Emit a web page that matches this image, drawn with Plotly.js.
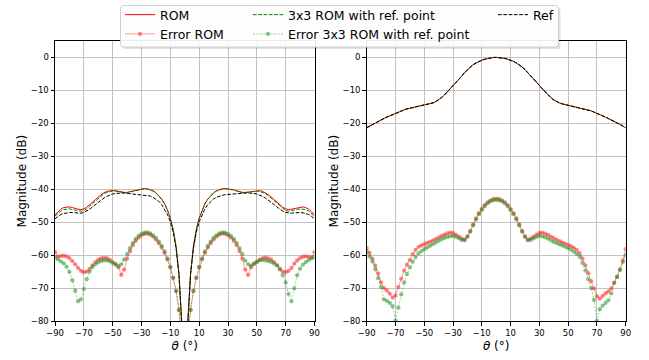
<!DOCTYPE html>
<html>
<head>
<meta charset="utf-8">
<script src="https://cdn.plot.ly/plotly-3.0.1.min.js"></script>
<style>html,body{margin:0;padding:0;background:#fff;}#chart{width:649px;height:360px;}</style>
</head>
<body>
<div id="chart"></div>
<script>
// ---------------- data ----------------
const theta = [-90,-88,-86,-84,-82,-80,-78,-76,-74,-72,-70,-68,-66,-64,-62,-60,-58,-56,-54,-52,-50,-48,-46,-44,-42,-40,-38,-36,-34,-32,-30,-28,-26,-24,-22,-20,-18,-16,-14,-12,-10,-8,-6,-4,-2,0,2,4,6,8,10,12,14,16,18,20,22,24,26,28,30,32,34,36,38,40,42,44,46,48,50,52,54,56,58,60,62,64,66,68,70,72,74,76,78,80,82,84,86,88,90];
const xTicks = [-90,-70,-50,-30,-10,10,30,50,70,90];
const yTicks = [-80,-70,-60,-50,-40,-30,-20,-10,0];
const seriesNames = ["ROM", "3x3 ROM with ref. point", "Ref", "Error ROM", "Error 3x3 ROM with ref. point"];

// Left panel
const romLeft = [-47.7,-46.8,-46.0,-45.5,-45.3,-45.3,-45.5,-45.8,-46.0,-46.1,-45.9,-45.4,-44.7,-43.9,-43.1,-42.3,-41.6,-41.0,-40.6,-40.4,-40.3,-40.4,-40.6,-40.8,-40.9,-40.9,-40.7,-40.4,-40.1,-39.9,-39.8,-39.7,-39.8,-40.0,-40.4,-41.0,-41.8,-42.9,-44.3,-46.2,-48.7,-52.2,-57.3,-65.5,-81.0,-110,
  -81.0,-65.5,-57.3,-52.2,-48.7,-46.2,-44.3,-42.9,-41.8,-41.0,-40.4,-40.0,-39.8,-39.7,-39.8,-39.9,-40.1,-40.4,-40.7,-40.9,-40.9,-40.8,-40.6,-40.4,-40.3,-40.4,-40.6,-41.0,-41.6,-42.3,-43.1,-43.9,-44.7,-45.4,-45.9,-46.1,-46.0,-45.8,-45.5,-45.3,-45.3,-45.5,-46.0,-46.8,-47.7];
const rom3Left = [-48.1,-47.3,-46.6,-46.1,-45.9,-45.9,-46.1,-46.3,-46.5,-46.6,-46.4,-45.9,-45.1,-44.3,-43.5,-42.7,-41.9,-41.3,-40.9,-40.6,-40.5,-40.5,-40.7,-40.9,-41.0,-41.0,-40.8,-40.5,-40.2,-40.0,-39.9,-39.8,-39.9,-40.1,-40.5,-41.1,-41.9,-43.0,-44.4,-46.3,-48.8,-52.3,-57.4,-65.7,-81.5,-110,
  -81.5,-65.7,-57.4,-52.3,-48.8,-46.3,-44.4,-43.0,-41.9,-41.1,-40.5,-40.1,-39.9,-39.8,-39.9,-40.0,-40.2,-40.5,-40.8,-41.0,-41.0,-40.9,-40.7,-40.5,-40.5,-40.6,-40.9,-41.3,-41.9,-42.7,-43.5,-44.3,-45.1,-45.9,-46.4,-46.6,-46.5,-46.3,-46.1,-45.9,-45.9,-46.1,-46.6,-47.3,-48.1];
const refLeft = [-48.9,-48.2,-47.6,-47.3,-47.1,-47.0,-47.0,-47.1,-47.2,-47.2,-47.0,-46.6,-46.0,-45.3,-44.6,-43.9,-43.2,-42.6,-42.1,-41.7,-41.4,-41.2,-41.1,-41.1,-41.1,-41.2,-41.3,-41.3,-41.4,-41.4,-41.5,-41.6,-41.8,-42.0,-42.4,-42.9,-43.6,-44.6,-45.9,-47.6,-49.8,-53.0,-57.9,-66.0,-82.0,-110,
  -82.0,-66.0,-57.9,-53.0,-49.8,-47.6,-45.9,-44.6,-43.6,-42.9,-42.4,-42.0,-41.8,-41.6,-41.5,-41.4,-41.4,-41.3,-41.3,-41.2,-41.1,-41.1,-41.1,-41.2,-41.4,-41.7,-42.1,-42.6,-43.2,-43.9,-44.6,-45.3,-46.0,-46.6,-47.0,-47.2,-47.2,-47.1,-47.0,-47.0,-47.1,-47.3,-47.6,-48.2,-48.9];
const errRomLeft = [-59.0,-60.4,-60.2,-60.1,-60.3,-60.8,-61.7,-62.7,-63.8,-64.7,-65.1,-64.9,-64.1,-63.0,-62.0,-61.3,-60.9,-60.7,-60.8,-61.3,-62.0,-62.6,-63.6,-65.9,-64.3,-61.0,-58.7,-56.9,-55.6,-54.6,-53.9,-53.5,-53.4,-53.7,-54.3,-55.2,-56.3,-57.6,-59.2,-61.2,-63.6,-66.8,-70.8,-76.5,-86,-110,
  -86,-76.5,-70.8,-66.8,-63.6,-61.2,-59.2,-57.6,-56.3,-55.2,-54.3,-53.7,-53.4,-53.5,-53.9,-54.6,-55.6,-56.9,-58.7,-61.0,-64.3,-65.9,-63.6,-62.6,-62.0,-61.3,-60.8,-60.7,-60.9,-61.3,-62.0,-63.0,-64.1,-64.9,-65.1,-64.7,-63.8,-62.5,-61.5,-60.8,-60.4,-60.3,-60.5,-60.6,-59.0];
const errRom3Left = [-60.5,-61.2,-61.8,-62.4,-63.4,-65.0,-67.6,-70.7,-73.9,-73.3,-70.2,-67.2,-64.9,-63.5,-62.7,-62.1,-61.7,-61.5,-61.5,-61.8,-62.3,-62.8,-63.2,-62.7,-61.3,-59.6,-57.8,-56.2,-55.0,-54.1,-53.5,-53.1,-53.0,-53.3,-53.9,-54.7,-55.8,-57.1,-58.8,-60.9,-63.5,-66.8,-70.8,-76.5,-86,-110,
  -86,-76.5,-70.8,-66.8,-63.5,-60.9,-58.8,-57.1,-55.8,-54.7,-53.9,-53.3,-53.0,-53.1,-53.5,-54.1,-55.0,-56.2,-57.8,-59.6,-61.6,-62.7,-63.1,-62.5,-61.9,-61.5,-61.4,-61.5,-61.7,-62.0,-62.5,-63.0,-64.2,-66.0,-68.2,-71.7,-73.9,-70.0,-66.0,-64.0,-62.8,-62.0,-61.4,-60.9,-60.5];

// Right panel (ROM, 3x3 ROM and Ref coincide)
const refRight = [-21.3,-20.8,-20.3,-19.8,-19.3,-18.9,-18.5,-18.1,-17.7,-17.3,-16.9,-16.6,-16.2,-15.9,-15.6,-15.4,-15.2,-15.0,-14.8,-14.7,-14.5,-14.3,-14.1,-13.8,-13.4,-12.9,-12.2,-11.4,-10.5,-9.5,-8.5,-7.5,-6.6,-5.7,-4.6,-3.7,-2.9,-2.2,-1.7,-1.2,-0.85,-0.55,-0.3,-0.13,-0.03,0,
  -0.03,-0.13,-0.3,-0.55,-0.85,-1.2,-1.7,-2.2,-2.9,-3.7,-4.6,-5.7,-6.6,-7.5,-8.5,-9.5,-10.5,-11.4,-12.2,-12.9,-13.4,-13.8,-14.1,-14.3,-14.5,-14.7,-14.8,-15.0,-15.2,-15.4,-15.6,-15.9,-16.2,-16.6,-16.9,-17.3,-17.7,-18.1,-18.5,-18.9,-19.3,-19.8,-20.3,-20.8,-21.3];
const romRight = refRight;
const rom3Right = refRight;
const errRomRight = [-57.8,-59.2,-61.0,-63.1,-65.5,-68.2,-69.9,-70.6,-71.6,-72.8,-72.2,-69.6,-67.1,-64.6,-62.8,-61.4,-59.6,-58.3,-57.4,-57.0,-56.6,-56.2,-55.9,-55.5,-55.1,-54.6,-54.1,-53.7,-53.3,-53.1,-53.2,-53.7,-54.3,-54.9,-55.2,-54.2,-52.6,-50.6,-48.8,-47.2,-45.9,-44.8,-43.9,-43.3,-42.9,-42.8,
  -42.9,-43.3,-43.9,-44.8,-45.9,-47.2,-48.8,-50.6,-52.6,-54.2,-55.2,-54.9,-54.3,-53.7,-53.2,-53.1,-53.4,-53.8,-54.3,-54.8,-55.3,-55.7,-56.1,-56.4,-56.8,-57.2,-57.7,-58.3,-59.3,-60.9,-63.0,-65.4,-67.8,-70.0,-72.4,-73.1,-72.3,-71.5,-70.9,-70.0,-68.3,-66.5,-64.3,-61.5,-58.1];
const errRom3Right = [-59.0,-60.3,-61.9,-64.2,-66.9,-69.6,-73.3,-73.8,-74.4,-75.4,-79.8,-75.8,-71.8,-68.2,-65.6,-63.6,-61.9,-60.5,-59.4,-58.7,-58.1,-57.6,-57.1,-56.6,-56.1,-55.6,-55.1,-54.7,-54.4,-54.2,-54.1,-54.4,-54.8,-55.3,-55.4,-54.4,-52.8,-50.9,-49.1,-47.5,-46.2,-45.1,-44.2,-43.6,-43.3,-43.2,
  -43.3,-43.6,-44.2,-45.1,-46.2,-47.5,-49.1,-50.9,-52.8,-54.4,-55.4,-55.3,-54.8,-54.4,-54.1,-54.2,-54.5,-54.9,-55.4,-55.9,-56.3,-56.7,-57.0,-57.4,-57.8,-58.3,-58.9,-59.5,-60.4,-62.3,-64.6,-67.2,-69.9,-73.5,-79.8,-76.3,-75.2,-74.4,-73.6,-71.5,-68.3,-66.5,-64.4,-62.0,-60.0];

// ---------------- styles ----------------
const W = 649, H = 360;
const px = x => x / W, py = y => 1 - y / H;
const FONT = "DejaVu Sans, Liberation Sans, sans-serif";
const dashPat = "3.7px,1.6px";

const styles = [
  {line: {color: "#ff0000", width: 1}, mode: "lines", legend: "legend"},
  {line: {color: "#008000", width: 1, dash: dashPat}, mode: "lines", legend: "legend2"},
  {line: {color: "#000000", width: 1, dash: dashPat}, mode: "lines", legend: "legend3"},
  {line: {color: "rgba(255,0,0,0.38)", width: 1}, mode: "lines+markers",
   marker: {color: "rgba(255,40,40,0.55)", size: 4.3}, legend: "legend"},
  {line: {color: "rgba(0,128,0,0.38)", width: 1, dash: "2px,1.5px"}, mode: "lines+markers",
   marker: {color: "rgba(40,150,40,0.55)", size: 4.3}, legend: "legend2"}
];

const leftSeries = [romLeft, rom3Left, refLeft, errRomLeft, errRom3Left];
const rightSeries = [romRight, rom3Right, refRight, errRomRight, errRom3Right];

const traces = [];
leftSeries.forEach((ys, i) => {
  traces.push(Object.assign({type: "scatter", x: theta, y: ys, name: seriesNames[i],
    xaxis: "x", yaxis: "y", showlegend: true}, JSON.parse(JSON.stringify(styles[i]))));
});
rightSeries.forEach((ys, i) => {
  traces.push(Object.assign({type: "scatter", x: theta, y: ys, name: seriesNames[i],
    xaxis: "x2", yaxis: "y2", showlegend: false}, JSON.parse(JSON.stringify(styles[i]))));
});

const yDom = [py(321), py(37.3)];
function xAxis(dom, anchor) {
  return {
    domain: dom, anchor: anchor, range: [-90, 90], tickvals: xTicks,
    ticks: "outside", ticklen: 3.5, tickwidth: 1, tickcolor: "#000",
    showline: true, mirror: true, linecolor: "#000", linewidth: 1,
    showgrid: true, gridcolor: "#c2c2c2", gridwidth: 1, zeroline: false,
    tickfont: {family: FONT, size: 8.5, color: "#000"},
    title: {text: "<i>θ</i> (°)", font: {family: FONT, size: 12, color: "#000"}, standoff: 4}
  };
}
function yAxis(anchor) {
  return {
    domain: yDom, anchor: anchor, range: [-80, 5], tickvals: yTicks,
    ticks: "outside", ticklen: 3.5, tickwidth: 1, tickcolor: "#000",
    showline: true, mirror: true, linecolor: "#000", linewidth: 1,
    showgrid: true, gridcolor: "#c2c2c2", gridwidth: 1, zeroline: false,
    tickfont: {family: FONT, size: 8.5, color: "#000"},
    title: {text: "Magnitude (dB)", font: {family: FONT, size: 12, color: "#000"}, standoff: 1}
  };
}

// rounded legend frame
function roundRect(x0, y0, x1, y1, r) {
  const X = v => px(v).toFixed(5), Y = v => py(v).toFixed(5);
  return `M ${X(x0 + r)} ${Y(y0)} L ${X(x1 - r)} ${Y(y0)} Q ${X(x1)} ${Y(y0)} ${X(x1)} ${Y(y0 + r)} ` +
         `L ${X(x1)} ${Y(y1 - r)} Q ${X(x1)} ${Y(y1)} ${X(x1 - r)} ${Y(y1)} ` +
         `L ${X(x0 + r)} ${Y(y1)} Q ${X(x0)} ${Y(y1)} ${X(x0)} ${Y(y1 - r)} ` +
         `L ${X(x0)} ${Y(y0 + r)} Q ${X(x0)} ${Y(y0)} ${X(x0 + r)} ${Y(y0)} Z`;
}

function legendCfg(xpx) {
  return {x: px(xpx), y: py(-4.5), xanchor: "left", yanchor: "top", orientation: "v",
    bgcolor: "rgba(0,0,0,0)", borderwidth: 0, tracegroupgap: 0, itemwidth: 30,
    font: {family: FONT, size: 12.5, color: "#000"}};
}

const layout = {
  width: W, height: H, margin: {l: 0, r: 0, t: 0, b: 0},
  paper_bgcolor: "#fff", plot_bgcolor: "#fff",
  font: {family: FONT},
  xaxis: xAxis([px(55), px(314.5)], "y"),
  yaxis: yAxis("x"),
  xaxis2: xAxis([px(366.7), px(625.7)], "y2"),
  yaxis2: yAxis("x2"),
  legend: legendCfg(120),
  legend2: legendCfg(248),
  legend3: legendCfg(493),
  shapes: [
    {type: "path", xref: "paper", yref: "paper", layer: "above",
     path: roundRect(122, 3.5, 560.5, 45.5, 3), fillcolor: "rgba(0,0,0,0.12)", line: {width: 0}},
    {type: "path", xref: "paper", yref: "paper", layer: "above",
     path: roundRect(120.5, 1.5, 558.5, 43.5, 3), fillcolor: "rgba(255,255,255,0.92)",
     line: {color: "#d0d0d0", width: 1}}
  ]
};

Plotly.newPlot("chart", traces, layout, {displayModeBar: false, staticPlot: true});
</script>
</body>
</html>
